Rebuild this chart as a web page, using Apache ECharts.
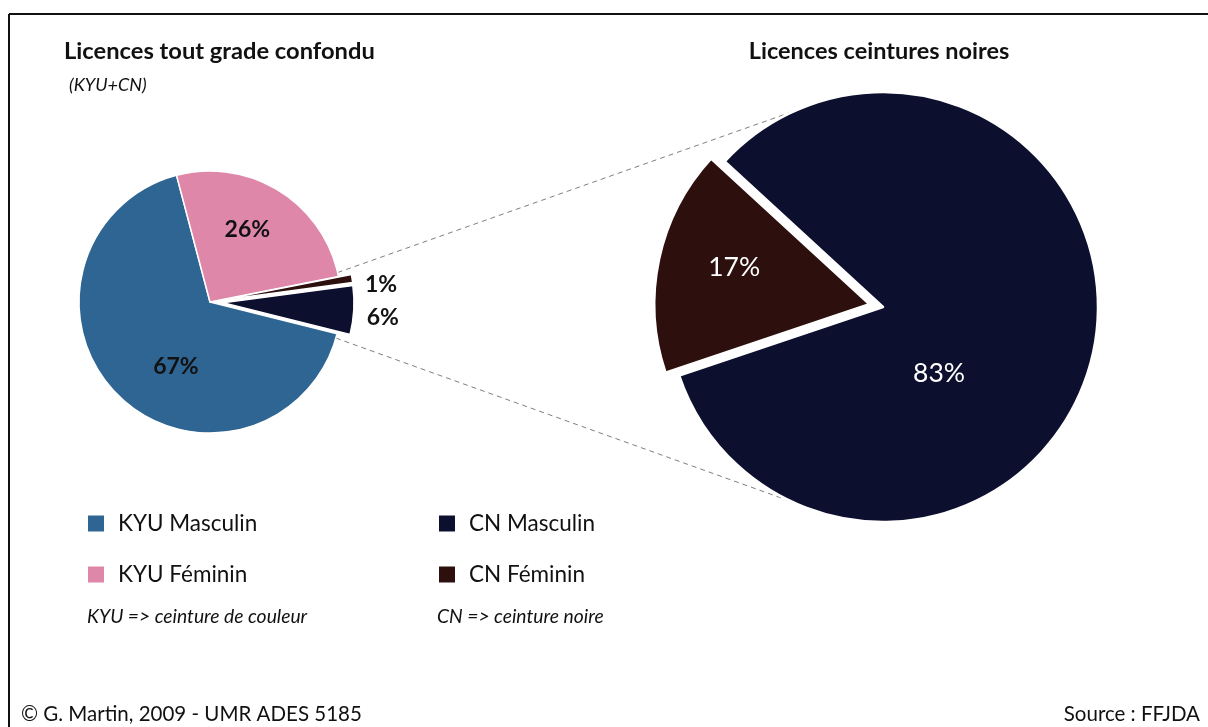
<!DOCTYPE html>
<html>
<head>
<meta charset="utf-8">
<script src="https://cdn.jsdelivr.net/npm/echarts@6/dist/echarts.min.js"></script>
<style>
  html, body { margin: 0; padding: 0; background: #fff; }
  #chart { width: 1208px; height: 727px; }
</style>
</head>
<body>
<div id="chart"></div>
<script>
// Licences tout grade confondu (KYU+CN), en %
const allNames = ['KYU Masculin', 'KYU Féminin', 'CN Féminin', 'CN Masculin'];
const allValues = [67, 26, 1, 6];

// Licences ceintures noires, en %
const cnNames = ['CN Masculin', 'CN Féminin'];
const cnValues = [83, 17];

const legendLeft = ['KYU Masculin', 'KYU Féminin'];
const legendRight = ['CN Masculin', 'CN Féminin'];

const colors = {
    'KYU Masculin': '#2f6593',
    'KYU Féminin': '#df87a9',
    'CN Masculin': '#0c0f2e',
    'CN Féminin': '#2d100e'
};

const FONT = 'Lato, "Open Sans", sans-serif';

// géométrie des deux camemberts
const left = { cx: 210, cy: 302, r: 131 };
const right = { cx: 883, cy: 307, r: 215 };

// point sur un cercle, angle en degrés dans le sens horaire depuis midi
function onCircle(c, deg) {
    const a = deg * Math.PI / 180;
    return [c.cx + c.r * Math.sin(a), c.cy - c.r * Math.cos(a)];
}

// décalage des étiquettes (placement façon Excel)
const leftLabelOffset = {
    'KYU Masculin': [14, 16],
    'KYU Féminin': [1, -14],
    'CN Féminin': [5, 7],
    'CN Masculin': [5, 7]
};
const rightLabelOffset = { 'CN Masculin': [-52, 43], 'CN Féminin': [-27, -14] };

const leftData = allNames.map((name, i) => {
    const isCN = name.indexOf('CN') === 0;
    const item = {
        name: name,
        value: allValues[i],
        itemStyle: { color: colors[name] },
        selected: isCN
    };
    if (isCN) {
        item.label = { position: 'outside' };
        item.labelLine = { show: false, length: 3, length2: 0 };
    } else {
        item.label = { position: 'inside', offset: leftLabelOffset[name] };
    }
    return item;
});

const rightData = cnNames.map((name, i) => ({
    name: name,
    value: cnValues[i],
    itemStyle: { color: colors[name] },
    selected: name === 'CN Féminin',
    label: { offset: rightLabelOffset[name] },
    select: { label: { offset: rightLabelOffset[name] } }
}));

// lignes pointillées reliant les deux camemberts
const lineStyle = { stroke: '#808080', lineWidth: 1, lineDash: [5, 4] };
const topA = onCircle(left, 77), topB = onCircle(right, 336);
const botA = onCircle(left, 106), botB = onCircle(right, 205);

const legendCommon = {
    orient: 'vertical',
    top: 512,
    padding: 0,
    icon: 'rect',
    itemWidth: 18,
    itemHeight: 18,
    itemGap: 28,
    selectedMode: false,
    textStyle: { fontFamily: FONT, fontSize: 22.5, color: '#111', padding: [0, 0, 0, 8] }
};

const chart = echarts.init(document.getElementById('chart'));

chart.setOption({
    backgroundColor: '#fff',
    animation: false,
    title: [
        {
            text: 'Licences tout grade confondu',
            left: 59, top: 34,
            textStyle: { fontFamily: FONT, fontSize: 23.7, fontWeight: 'bold', color: '#111' }
        },
        {
            text: '(KYU+CN)',
            left: 64, top: 71,
            textStyle: { fontFamily: FONT, fontSize: 18, fontStyle: 'italic', fontWeight: 'normal', color: '#111' }
        },
        {
            text: 'Licences ceintures noires',
            left: 874, top: 34, textAlign: 'center',
            textStyle: { fontFamily: FONT, fontSize: 23.5, fontWeight: 'bold', color: '#111' }
        }
    ],
    legend: [
        Object.assign({}, legendCommon, { left: 86, data: legendLeft }),
        Object.assign({}, legendCommon, { left: 437, data: legendRight })
    ],
    series: [
        {
            type: 'pie',
            center: [left.cx, left.cy],
            radius: left.r,
            startAngle: 346,
            selectedMode: 'multiple',
            selectedOffset: 13,
            avoidLabelOverlap: false,
            itemStyle: { borderColor: '#fff', borderWidth: 1.5 },
            label: {
                formatter: '{c}%',
                fontFamily: FONT,
                fontSize: 23,
                fontWeight: 'bold',
                color: '#111'
            },
            // les étiquettes extérieures (1 %, 6 %) sont un peu décalées
            labelLayout: function (params) {
                const name = allNames[params.dataIndex];
                if (name.indexOf('CN') === 0) {
                    const off = leftLabelOffset[name];
                    return { dx: off[0], dy: off[1] };
                }
                return {};
            },
            emphasis: { disabled: true },
            data: leftData
        },
        {
            type: 'pie',
            center: [right.cx, right.cy],
            radius: right.r,
            startAngle: 137.4,
            selectedMode: 'single',
            selectedOffset: 14,
            itemStyle: { borderColor: '#fff', borderWidth: 2.5 },
            label: {
                position: 'inside',
                formatter: '{c}%',
                fontFamily: FONT,
                fontSize: 26.5,
                color: '#fff'
            },
            emphasis: { disabled: true },
            data: rightData
        }
    ],
    graphic: [
        // cadre (haut et gauche)
        { type: 'line', shape: { x1: 9, y1: 14, x2: 1208, y2: 14 }, style: { stroke: '#111', lineWidth: 2 } },
        { type: 'line', shape: { x1: 9, y1: 14, x2: 9, y2: 727 }, style: { stroke: '#111', lineWidth: 2 } },
        { type: 'line', z: -1, shape: { x1: topA[0], y1: topA[1], x2: topB[0], y2: topB[1] }, style: lineStyle },
        { type: 'line', z: -1, shape: { x1: botA[0], y1: botA[1], x2: botB[0], y2: botB[1] }, style: lineStyle },
        {
            type: 'text', left: 87, top: 607,
            style: { text: 'KYU => ceinture de couleur', font: 'italic 19.3px ' + FONT, fill: '#111' }
        },
        {
            type: 'text', left: 437, top: 607,
            style: { text: 'CN => ceinture noire', font: 'italic 19.3px ' + FONT, fill: '#111' }
        },
        {
            type: 'text', left: 21, top: 704,
            style: { text: '© G. Martin, 2009 - UMR ADES 5185', font: '20.5px ' + FONT, fill: '#111' }
        },
        {
            type: 'text', right: 8, top: 704,
            style: { text: 'Source : FFJDA', font: '20.5px ' + FONT, fill: '#111' }
        }
    ]
});

window.addEventListener('resize', () => chart.resize());
</script>
</body>
</html>
